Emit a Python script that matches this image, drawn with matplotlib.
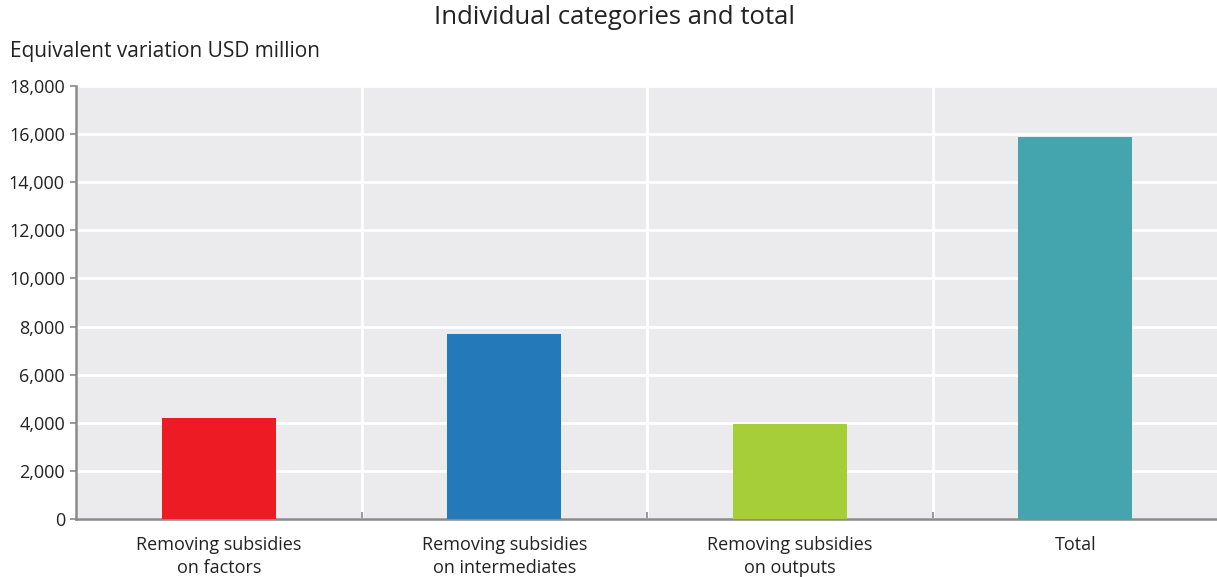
import matplotlib.pyplot as plt
import numpy as np

categories = ['Removing subsidies\non factors', 'Removing subsidies\non intermediates',
              'Removing subsidies\non outputs', 'Total']
values = [4200, 7700, 3950, 15870]
colors = ['#ED1C24', '#2479B8', '#A6CE39', '#45A5AF']
yticks = [0, 2000, 4000, 6000, 8000, 10000, 12000, 14000, 16000, 18000]

plt.rcParams['font.family'] = ['Open Sans', 'DejaVu Sans']

fig = plt.figure(figsize=(12.17, 5.77), dpi=100)
ax = fig.add_axes([76 / 1217, 1 - 519 / 577, (1218 - 76) / 1217, (519 - 86) / 577])

x = np.arange(len(categories))
ax.bar(x, values, width=0.4, color=colors, zorder=3)

ax.set_facecolor('#EBEBED')
ax.set_xlim(-0.5, len(categories) - 0.5)
ax.set_ylim(0, 18000)
ax.set_yticks(yticks)
ax.set_yticklabels([f'{v:,}' for v in yticks], fontsize=13, color='#222222')
ax.set_xticks(x)
ax.set_xticklabels(categories, fontsize=13, color='#222222', linespacing=1.35)
ax.tick_params(axis='x', length=0, pad=12)
ax.tick_params(axis='y', length=4, color='#8a8a8a', width=1.2, pad=4)

# category separators
ax.set_xticks(np.arange(0.5, len(categories) - 0.5), minor=True)
ax.tick_params(axis='x', which='minor', direction='in', length=5, color='#8a8a8a', width=1.2)
ax.grid(True, axis='y', color='white', linewidth=2, zorder=1)
ax.grid(True, axis='x', which='minor', color='white', linewidth=2, zorder=1)

for s in ['top', 'right']:
    ax.spines[s].set_visible(False)
for s in ['left', 'bottom']:
    ax.spines[s].set_color('#8a8a8a')
    ax.spines[s].set_linewidth(1.8)

fig.text(0.505, 1 - 18 / 577, 'Individual categories and total', ha='center', va='center',
         fontsize=18.5, color='#222222')
fig.text(10 / 1217, 1 - 52 / 577, 'Equivalent variation USD million', ha='left', va='center',
         fontsize=15, color='#222222')

fig.savefig('out.png', dpi=100)
